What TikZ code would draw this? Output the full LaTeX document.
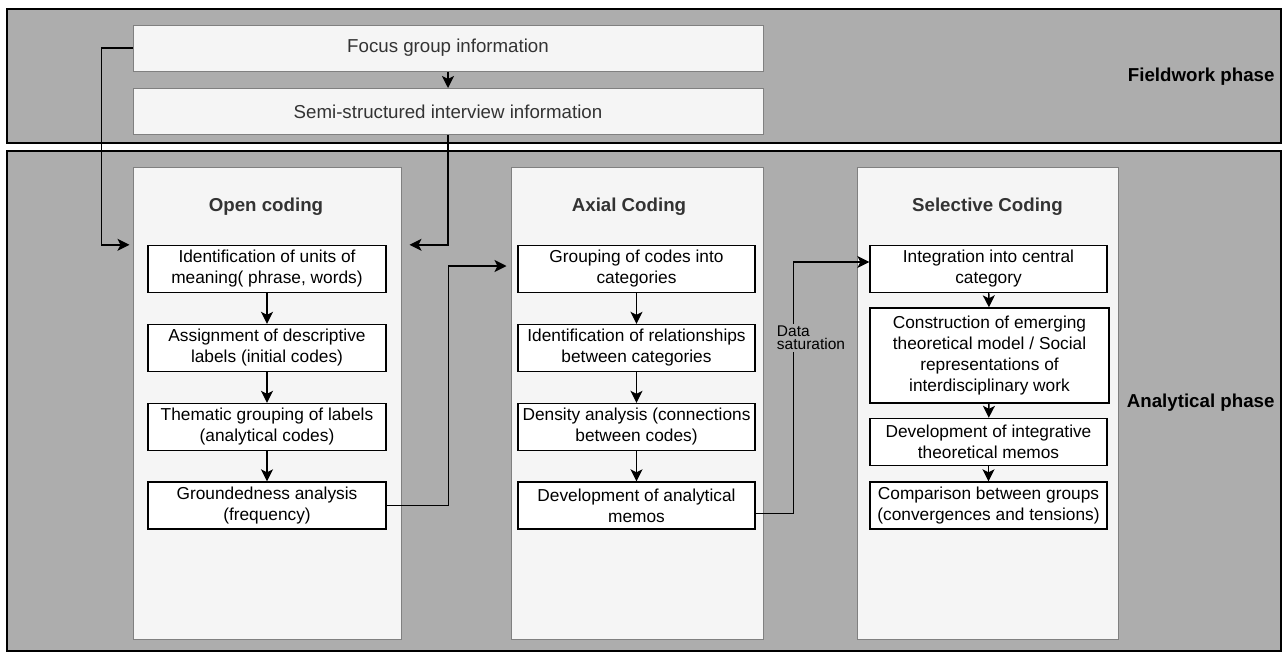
\documentclass[tikz,border=0pt]{standalone}
\usepackage{fontspec}
\setmainfont{Liberation Sans}
\usetikzlibrary{arrows.meta}
\definecolor{bandgray}{HTML}{ADADAD}
\definecolor{panelfill}{HTML}{F5F5F5}
\definecolor{panelline}{HTML}{808080}
\definecolor{titletext}{HTML}{333333}

\begin{document}
\begin{tikzpicture}[x=1pt,y=-1pt,
    band/.style={draw=black,line width=1.3pt,fill=bandgray},
    infobox/.style={draw=panelline,line width=1pt,fill=panelfill,minimum width=630pt,
      minimum height=46pt,inner sep=0pt,text=titletext,font=\fontsize{18.7}{22}\selectfont},
    panel/.style={draw=panelline,line width=1pt,fill=panelfill,minimum height=472pt,inner sep=0pt},
    paneltitle/.style={text=titletext,font=\fontsize{18.7}{22}\selectfont\bfseries},
    stepbox/.style={draw=black,line width=1.4pt,fill=white,minimum width=237pt,minimum height=47pt,
      inner sep=0pt,align=center,font=\fontsize{17.3}{21}\selectfont},
    phase/.style={anchor=east,font=\fontsize{18.7}{22}\selectfont\bfseries},
    satlabel/.style={fill=bandgray,align=left,inner sep=2pt,font=\fontsize{15.5}{13}\selectfont},
    link/.style={draw=black,line width=1.4pt,-{Stealth[length=12pt,width=12pt,inset=3pt]}},
  ]
    \useasboundingbox (0,0) rectangle (1283,653);
    \path[band] (7,9) rectangle (1281,143);
    \path[band] (7,151) rectangle (1281,651);
    \node[phase] (fieldwork) at (1278,77) {Fieldwork phase};
    \node[phase] (analytical) at (1278,403) {Analytical phase};

    \node[infobox] (focus) at (448,48) {Focus group information};
    \node[infobox] (semi) at (448,111.5) {Semi-structured interview information};

    \node[panel,minimum width=268pt] (openpanel) at (267,403) {};
    \node[panel,minimum width=252pt] (axialpanel) at (637,403) {};
    \node[panel,minimum width=261pt] (selpanel) at (987.5,403) {};
    \node[paneltitle] (opentitle) at (266,207) {Open coding};
    \node[paneltitle] (axialtitle) at (629,207) {Axial Coding};
    \node[paneltitle] (seltitle) at (987.5,207) {Selective Coding};

    \begin{scope}[stepbox/.append style={minimum width=238pt}]
      \node[stepbox] (o1) at (267,269) {Identification of units of\\meaning( phrase, words)};
      \node[stepbox] (o2) at (267,348) {Assignment of descriptive\\labels (initial codes)};
      \node[stepbox] (o3) at (267,427) {Thematic grouping of labels\\(analytical codes)};
      \node[stepbox] (o4) at (267,505.5) {Groundedness analysis\\(frequency)};
    \end{scope}

    \node[stepbox] (a1) at (636.5,269) {Grouping of codes into\\categories};
    \node[stepbox] (a2) at (636.5,348) {Identification of relationships\\between categories};
    \node[stepbox] (a3) at (636.5,427) {Density analysis (connections\\between codes)};
    \node[stepbox] (a4) at (636.5,505.5) {Development of analytical\\memos};

    \node[stepbox] (s1) at (988.5,269) {Integration into central\\category};
    \node[stepbox,minimum height=95pt,minimum width=239pt] (s2) at (989.5,355.5)
      {Construction of emerging\\theoretical model / Social\\representations of\\interdisciplinary work};
    \node[stepbox] (s3) at (988.5,442) {Development of integrative\\theoretical memos};
    \node[stepbox] (s4) at (988.5,505.5) {Comparison between groups\\(convergences and tensions)};

    \foreach \from/\to in {o1/o2,o2/o3,o3/o4,a1/a2,a2/a3,a3/a4,s1/s2,s2/s3,s3/s4}
      \draw[link] (\from) -- (\to);

    \draw[link] (focus) -- (semi);
    \draw[link] (focus.west) -- ++(-31,0) |- ([xshift=-3pt]openpanel.west |- o1.north);
    \draw[link] (semi.south) |- ([xshift=8pt]openpanel.east |- o1.north);
    \draw[link] (o4.east) -- ++(62,0) |- ([xshift=-4pt,yshift=3pt]axialpanel.west |- a1);
    \draw[link] ([yshift=-8pt]a4.east) -- ++(38,0) |- ([yshift=7pt]s1.west);
    \node[satlabel] (saturation) at (811,338) {Data\\saturation};
  \end{tikzpicture}
\end{document}
